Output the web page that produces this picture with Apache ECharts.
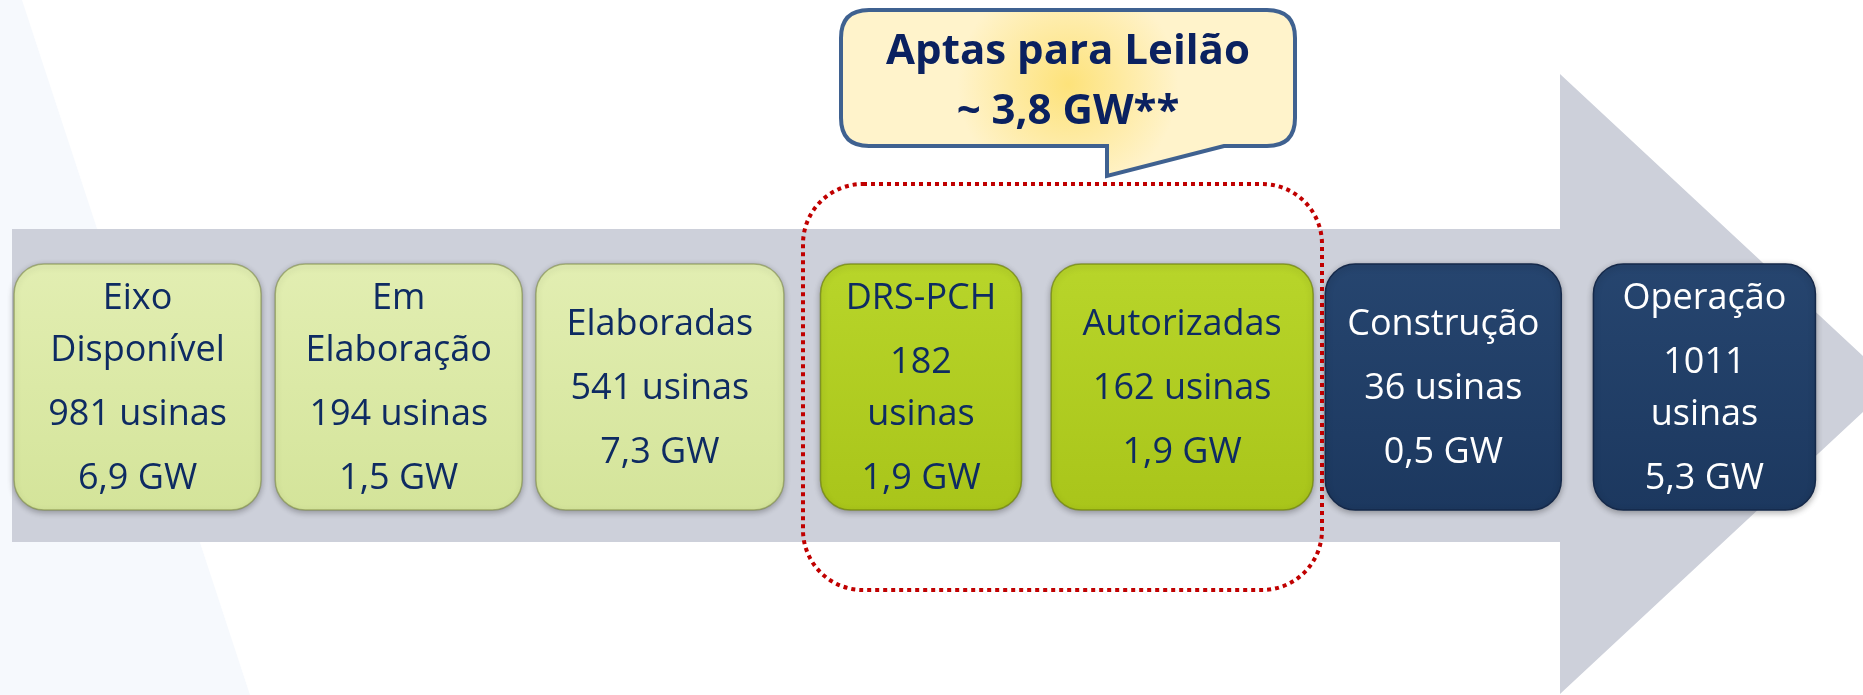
<!DOCTYPE html>
<html lang="pt">
<head>
<meta charset="UTF-8">
<title>PCH - etapas</title>
<script src="https://cdn.jsdelivr.net/npm/echarts@6/dist/echarts.min.js"></script>
<style>
  * { margin: 0; padding: 0; }
  html, body, #main { width: 100%; height: 100%; background: #fff; }
</style>
</head>
<body>
<div id="main"></div>
<script>
// dados
const stages = ['Eixo\nDisponível', 'Em\nElaboração', 'Elaboradas', 'DRS-PCH', 'Autorizadas', 'Construção', 'Operação'];
const usinas = [981, 194, 541, 182, 162, 36, 1011];
const potenciaGW = [6.9, 1.5, 7.3, 1.9, 1.9, 0.5, 5.3];
const fase = ['estudo', 'estudo', 'estudo', 'apta', 'apta', 'obra', 'obra'];
const aptasTitulo = 'Aptas para Leilão';
const aptasGW = 3.8;

// layout
const cardWidth = [247, 247, 248, 201, 262, 236, 222];
const cardFont = '36px "Open Sans"';
const faseStyle = {
  estudo: { top: '#e2eeb2', bottom: '#d4e49a', stroke: 'rgba(120,135,60,0.55)', text: '#0e2b62' },
  apta:   { top: '#b8d52a', bottom: '#a9c51a', stroke: 'rgba(110,130,10,0.7)', text: '#0e2b62' },
  obra:   { top: '#26456f', bottom: '#1c385f', stroke: '#15294a', text: '#ffffff' }
};
const balloonPath = 'M869 10 L1267 10 Q1295 10 1295 38 L1295 118 Q1295 146 1267 146 L1224 146 L1107 176 L1107 146 L869 146 Q841 146 841 118 L841 38 Q841 10 869 10 Z';

const fmt = v => v.toFixed(1).replace('.', ',');

const measure = document.createElement('canvas').getContext('2d');
measure.font = cardFont;

function countLines(i) {
  const txt = usinas[i] + ' usinas';
  if (measure.measureText(txt).width > cardWidth[i] - 36) return [String(usinas[i]), 'usinas'];
  return [txt];
}

function centerText(t, x, y, font, fill) {
  return {
    type: 'text',
    style: {
      text: t, x, y, font, fill,
      align: 'center', verticalAlign: 'middle',
      textAlign: 'center', textVerticalAlign: 'middle'
    }
  };
}

function renderCard(params, api) {
  const i = api.value(0);
  const top = api.coord([i, 1]);
  const bottom = api.coord([i, 0]);
  const cx = top[0];
  const w = cardWidth[i];
  const st = faseStyle[fase[i]];

  const paras = [stages[i].split('\n'), countLines(i), [fmt(potenciaGW[i]) + ' GW']];
  const lines = [];
  let y = 0, first = true;
  paras.forEach(p => p.forEach((line, k) => {
    if (!first) y += k === 0 ? 64 : 52;
    lines.push([line, y]);
    first = false;
  }));
  const off = (top[1] + bottom[1]) / 2 - y / 2 + 2;

  const children = [{
    type: 'rect',
    shape: { x: cx - w / 2, y: top[1], width: w, height: bottom[1] - top[1], r: 30 },
    style: {
      fill: { type: 'linear', x: 0, y: 0, x2: 0, y2: 1,
        colorStops: [{ offset: 0, color: st.top }, { offset: 1, color: st.bottom }] },
      stroke: st.stroke,
      lineWidth: 1.5,
      shadowBlur: 6,
      shadowOffsetY: 2,
      shadowColor: 'rgba(0,0,0,0.3)'
    }
  }];
  lines.forEach(([t, dy]) => children.push(centerText(t, cx, off + dy, cardFont, st.text)));
  return { type: 'group', children };
}

function renderBalloon(params, api) {
  const font = 'bold 42px "Open Sans"';
  return {
    type: 'group',
    children: [
      {
        type: 'path',
        shape: { pathData: balloonPath },
        style: {
          fill: { type: 'radial', x: 0.5, y: 0.45, r: 0.65,
            colorStops: [{ offset: 0, color: '#fde27a' }, { offset: 1, color: '#fff3cb' }] },
          stroke: '#3f6190', lineWidth: 4
        }
      },
      centerText(aptasTitulo, 1068, 52, font, '#0a2160'),
      centerText('~ ' + fmt(api.value(0)) + ' GW**', 1068, 112, font, '#0a2160')
    ]
  };
}

const chart = echarts.init(document.getElementById('main'));

const option = {
  backgroundColor: '#ffffff',
  animation: false,
  grid: { left: 7, right: 28, top: 264, bottom: 185 },
  xAxis: { type: 'category', data: stages, show: false },
  yAxis: { type: 'value', min: 0, max: 1, show: false },
  graphic: [
    { type: 'polygon', z: -20, silent: true,
      shape: { points: [[0, 0], [22, 0], [250, 695], [0, 695]] },
      style: { fill: '#f6f9fd' } },
    { type: 'polygon', z: -10, silent: true,
      shape: { points: [[12, 229], [1560, 229], [1560, 74], [1893, 384], [1560, 694], [1560, 542], [12, 542]] },
      style: { fill: '#cdd0da' } },
    { type: 'rect', z: 100, silent: true,
      shape: { x: 803, y: 184, width: 519, height: 406, r: 60 },
      style: { fill: 'none', stroke: '#c00000', lineWidth: 4, lineDash: [4, 4] } }
  ],
  series: [{
    type: 'custom',
    z: 2,
    renderItem: renderCard,
    encode: { x: 0, y: 1 },
    data: stages.map((s, i) => [i, 1])
  }, {
    type: 'custom',
    z: 5,
    coordinateSystem: 'none',
    renderItem: renderBalloon,
    data: [[aptasGW]]
  }]
};
chart.setOption(option);
</script>
</body>
</html>
